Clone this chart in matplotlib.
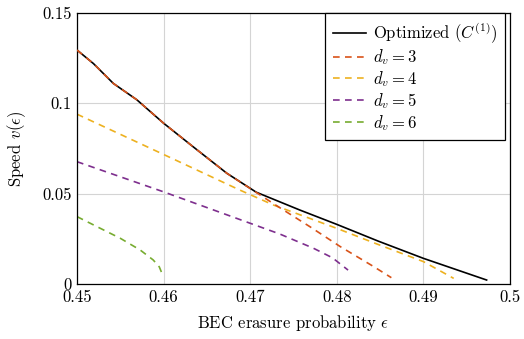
import matplotlib
matplotlib.use("Agg")
import matplotlib.pyplot as plt

plt.rcParams["font.family"] = "serif"
plt.rcParams["font.serif"] = ["cmr10"]
plt.rcParams["mathtext.fontset"] = "cm"
plt.rcParams["axes.formatter.use_mathtext"] = True

# optimized curve C^(1)
eps_opt = [0.45, 0.4519, 0.4542, 0.4569, 0.46, 0.4634, 0.4673, 0.4707,
           0.4757, 0.48, 0.4848, 0.49, 0.4973]
v_opt = [0.1295, 0.122, 0.111, 0.102, 0.089, 0.076, 0.0613, 0.0508,
         0.041, 0.033, 0.0237, 0.0142, 0.0022]

# d_v = 3
eps_d3 = [0.45, 0.4519, 0.4542, 0.4569, 0.46, 0.4634, 0.4673, 0.4704,
          0.4731, 0.4769, 0.4804, 0.4842, 0.4863]
v_d3 = [0.1295, 0.122, 0.111, 0.102, 0.089, 0.076, 0.0613, 0.0516,
        0.0432, 0.0317, 0.0207, 0.0098, 0.0035]

# d_v = 4
eps_d4 = [0.45, 0.46, 0.4688, 0.4727, 0.48, 0.4846, 0.49, 0.4935]
v_d4 = [0.094, 0.0717, 0.052, 0.0437, 0.0308, 0.0222, 0.0124, 0.0031]

# d_v = 5
eps_d5 = [0.45, 0.46, 0.4692, 0.4734, 0.4773, 0.4795, 0.4813]
v_d5 = [0.0677, 0.051, 0.035, 0.0277, 0.0198, 0.0145, 0.0077]

# d_v = 6
eps_d6 = [0.45, 0.4527, 0.455, 0.4573, 0.4588, 0.4595, 0.4598]
v_d6 = [0.0373, 0.0308, 0.0253, 0.0188, 0.0133, 0.0095, 0.006]

xticks = [0.45, 0.46, 0.47, 0.48, 0.49, 0.5]
xtick_labels = ["0.45", "0.46", "0.47", "0.48", "0.49", "0.5"]
yticks = [0, 0.05, 0.1, 0.15]
ytick_labels = ["0", "0.05", "0.1", "0.15"]

fig = plt.figure(figsize=(5.24, 3.39), dpi=100)
ax = fig.add_axes([77 / 524, 1 - 284 / 339, 433 / 524, 271 / 339])

dash = (4.0, 3.2)
ax.plot(eps_opt, v_opt, color="black", lw=1.2, label=r"Optimized $(C^{(1)})$", zorder=5)
ax.plot(eps_d3, v_d3, color="#D95319", lw=1.2, dashes=dash, label=r"$d_v = 3$", zorder=6)
ax.plot(eps_d4, v_d4, color="#EDB120", lw=1.2, dashes=dash, label=r"$d_v = 4$")
ax.plot(eps_d5, v_d5, color="#7E2F8E", lw=1.2, dashes=dash, label=r"$d_v = 5$")
ax.plot(eps_d6, v_d6, color="#77AC30", lw=1.2, dashes=dash, label=r"$d_v = 6$")

ax.set_xlim(0.45, 0.5)
ax.set_ylim(0, 0.15)
ax.set_xticks(xticks)
ax.set_xticklabels(xtick_labels)
ax.set_yticks(yticks)
ax.set_yticklabels(ytick_labels)
ax.tick_params(length=0, labelsize=12, pad=4)
ax.grid(True, color="#d4d4d4", lw=0.8)
ax.set_axisbelow(True)
for s in ax.spines.values():
    s.set_linewidth(0.9)

ax.set_xlabel(r"BEC erasure probability $\epsilon$", fontsize=12, labelpad=6)
ax.set_ylabel(r"Speed $v(\epsilon)$", fontsize=12, labelpad=10)

leg = ax.legend(loc="upper right", bbox_to_anchor=(1 - 5 / 433, 1.0), borderaxespad=0,
                fontsize=12, fancybox=False, framealpha=1, edgecolor="black",
                handlelength=2.0, handletextpad=0.4, labelspacing=0.12,
                borderpad=0.45)
leg.get_frame().set_linewidth(0.9)

fig.savefig("out.png", dpi=100)
